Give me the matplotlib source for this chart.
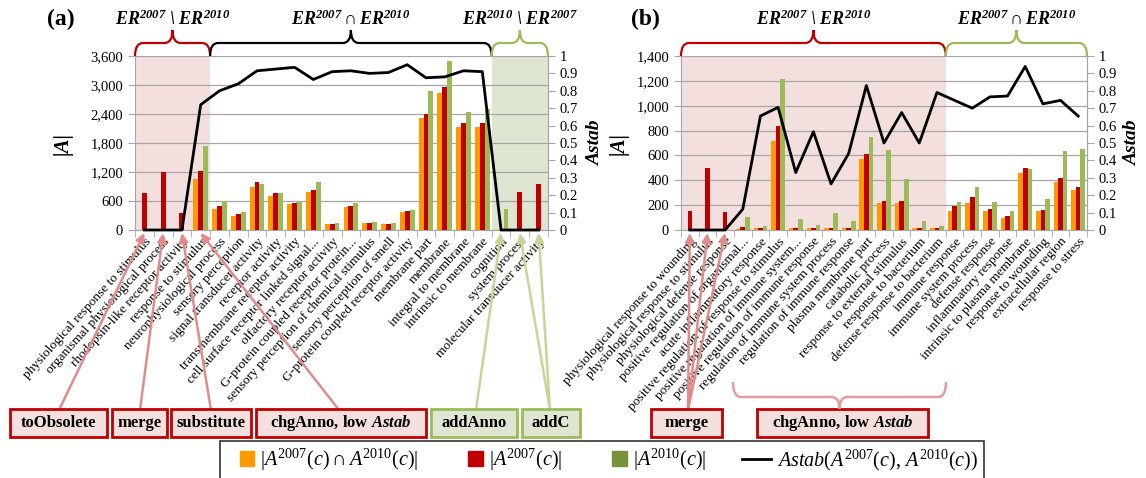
import numpy as np
import matplotlib
matplotlib.use("Agg")
import matplotlib.pyplot as plt
import matplotlib.patches as mpatches
from matplotlib.path import Path
from matplotlib.lines import Line2D
from matplotlib.legend_handler import HandlerPatch
from matplotlib.ticker import FuncFormatter
from matplotlib import transforms

# Panel (a) data
cats_a = [
    "physiological response to stimulus", "organismal physiological process",
    "rhodopsin-like receptor activity", "response to stimulus",
    "neurophysiological process", "sensory perception", "signal transducer activity",
    "receptor activity", "transmembrane receptor activity",
    "cell surface receptor linked signal...", "olfactory receptor activity",
    "G-protein coupled receptor protein...", "sensory perception of chemical stimulus",
    "sensory perception of smell", "G-protein coupled receptor activity",
    "membrane part", "membrane", "integral to membrane", "intrinsic to membrane",
    "cognition", "system process", "molecular transducer activity",
]
inter_a = [0, 0, 0, 1050, 430, 290, 890, 700, 530, 780, 120, 480, 140, 130, 380,
           2310, 2830, 2140, 2140, 0, 0, 0]
a07_a = [770, 1200, 350, 1230, 500, 330, 1000, 770, 560, 830, 130, 500, 150, 130, 400,
         2390, 2950, 2210, 2220, 0, 790, 960]
a10_a = [0, 0, 0, 1740, 610, 370, 960, 760, 570, 1000, 140, 550, 170, 150, 420,
         2870, 3500, 2450, 2500, 430, 0, 0]
astab_a = [0, 0, 0, 0.72, 0.80, 0.84, 0.915, 0.925, 0.935, 0.865, 0.91, 0.915, 0.90,
           0.905, 0.95, 0.875, 0.88, 0.915, 0.91, 0, 0, 0]

# Panel (b) data
cats_b = [
    "physiological response to wounding", "physiological response to stimulus",
    "physiological defense response", "positive regulation of organismal...",
    "acute inflammatory response", "positive regulation of response to stimulus",
    "positive regulation of immune system...", "positive regulation of immune response",
    "regulation of immune system process", "regulation of immune response",
    "plasma membrane part", "catabolic process", "response to external stimulus",
    "response to bacterium", "defense response to bacterium", "immune response",
    "immune system process", "defense response", "inflammatory response",
    "intrinsic to plasma membrane", "response to wounding", "extracellular region",
    "response to stress",
]
inter_b = [0, 0, 0, 5, 15, 720, 15, 15, 20, 20, 570, 220, 215, 20, 15, 155, 215, 155,
           100, 460, 150, 390, 325]
a07_b = [150, 500, 145, 25, 15, 840, 15, 15, 20, 20, 615, 235, 230, 20, 15, 195, 265,
         170, 110, 500, 160, 415, 345]
a10_b = [0, 0, 0, 105, 30, 1215, 90, 40, 140, 75, 750, 640, 410, 70, 30, 225, 350, 225,
         150, 490, 250, 635, 655]
astab_b = [0, 0, 0, 0.12, 0.655, 0.705, 0.33, 0.565, 0.265, 0.44, 0.83, 0.50, 0.675,
           0.50, 0.79, 0.745, 0.70, 0.765, 0.77, 0.94, 0.725, 0.745, 0.655]

W, H = 1146, 478
ORANGE = "#ff9900"
RED = "#c00000"
GREEN = "#9bbb59"
PINK_BG = "#f3dfde"
GREEN_BG = "#dee6d2"
GRID = "#a6a6a6"
RED_ARROW = "#e08c8c"
GREEN_ARROW = "#c4d79b"

plt.rcParams["font.family"] = ["Liberation Serif", "DejaVu Serif"]
plt.rcParams["mathtext.fontset"] = "custom"
plt.rcParams["mathtext.rm"] = "Liberation Serif"
plt.rcParams["mathtext.it"] = "Liberation Serif:italic"
plt.rcParams["mathtext.bf"] = "Liberation Serif:bold"
plt.rcParams["mathtext.bfit"] = "Liberation Serif:italic:bold"


def fx(x):
    return x / W


def fy(y):
    # image pixel row (top-down) -> figure fraction
    return 1 - y / H


def draw_panel(fig, box, cats, inter, a07, a10, astab, ymax, ystep, ylab_x, astab_x):
    left, right, top, bottom = box
    ax = fig.add_axes([fx(left), fy(bottom), (right - left) / W, (bottom - top) / H])
    n = len(cats)
    x = np.arange(n)
    w = 0.26
    ax.bar(x - w, inter, w, color=ORANGE, zorder=3)
    ax.bar(x, a07, w, color=RED, zorder=3)
    ax.bar(x + w, a10, w, color=GREEN, zorder=3)
    ax.set_xlim(-0.5, n - 0.5)
    ax.set_ylim(0, ymax)
    ax.set_yticks(np.arange(0, ymax + 1, ystep))
    ax.yaxis.set_major_formatter(FuncFormatter(lambda v, p: f"{v:,.0f}"))
    ax.grid(axis="y", color=GRID, lw=0.9)
    ax.set_axisbelow(True)

    ax.set_xticks(x)
    ax.set_xticklabels(cats, rotation=48, ha="right", va="top",
                       rotation_mode="anchor", fontsize=9.6)
    ax.set_xticks(np.arange(-0.5, n, 1), minor=True)
    ax.tick_params(axis="x", which="major", length=0, pad=4)
    ax.tick_params(axis="x", which="minor", length=5, color=GRID)
    ax.tick_params(axis="y", length=5, color=GRID, labelsize=10.5)
    ax.spines["top"].set_visible(False)
    for s in ["left", "bottom", "right"]:
        ax.spines[s].set_color(GRID)
    ax.set_ylabel("|A|", fontsize=15, fontweight="bold", fontstyle="italic")
    ax.yaxis.set_label_coords(ylab_x, 0.5)

    ax2 = ax.twinx()
    ax2.plot(x, astab, color="black", lw=2, zorder=4, clip_on=False)
    ax2.set_ylim(0, 1)
    ticks = np.round(np.arange(0, 1.01, 0.1), 1)
    ax2.set_yticks(ticks)
    ax2.set_yticklabels(["0"] + [f"{t:.1f}" for t in ticks[1:-1]] + ["1"])
    ax2.tick_params(axis="y", length=5, color=GRID, labelsize=10.5)
    for s in ["left", "top", "bottom"]:
        ax2.spines[s].set_visible(False)
    ax2.spines["right"].set_color(GRID)
    ax2.set_ylabel("Astab", fontsize=14, fontweight="bold", fontstyle="italic")
    ax2.yaxis.set_label_coords(astab_x, 0.5)
    return ax


def data_to_px(fig, ax, xd):
    # x position of a data value in image pixels
    disp = ax.transData.transform((xd, 0))
    return fig.transFigure.inverted().transform(disp)[0] * W


def draw_brace(fig, x0, x1, y_end, y_mid, y_tip, color, r=8, lw=1.6):
    xm = (x0 + x1) / 2
    pts = [(x0, y_end), (x0, y_mid), (x0 + r, y_mid), (xm - r, y_mid),
           (xm, y_mid), (xm, y_tip), (xm, y_mid), (xm + r, y_mid),
           (x1 - r, y_mid), (x1, y_mid), (x1, y_end)]
    codes = [Path.MOVETO, Path.CURVE3, Path.CURVE3, Path.LINETO,
             Path.CURVE3, Path.CURVE3, Path.CURVE3, Path.CURVE3,
             Path.LINETO, Path.CURVE3, Path.CURVE3]
    verts = [(fx(px), fy(py)) for px, py in pts]
    patch = mpatches.PathPatch(Path(verts, codes), fill=False, edgecolor=color,
                               lw=lw, transform=fig.transFigure)
    fig.add_artist(patch)


def draw_box(fig, x0, x1, y0, y1, label, kind):
    face, edge = (PINK_BG, RED) if kind == "red" else (GREEN_BG, GREEN)
    rect = mpatches.Rectangle((fx(x0), fy(y1)), (x1 - x0) / W, (y1 - y0) / H,
                              facecolor=face, edgecolor=edge, lw=2,
                              transform=fig.transFigure)
    fig.add_artist(rect)
    fig.text(fx((x0 + x1) / 2), fy((y0 + y1) / 2), label, ha="center", va="center",
             fontsize=12, fontweight="bold")


def draw_arrow(fig, ax, start_px, cat, color):
    trans = transforms.blended_transform_factory(ax.transData, fig.transFigure)
    ax.annotate("", xy=(cat, fy(233)), xycoords=trans,
                xytext=(fx(start_px), fy(410)), textcoords="figure fraction",
                arrowprops=dict(arrowstyle="-|>", color=color, lw=1.8,
                                mutation_scale=13, shrinkA=0, shrinkB=0))


def square_patch(legend, orig_handle, xdescent, ydescent, width, height, fontsize):
    s = height * 1.05
    return mpatches.Rectangle((-xdescent + width - s, -ydescent + (height - s) / 2), s, s)


def main():
    fig = plt.figure(figsize=(W / 100, H / 100), dpi=100)

    ax_a = draw_panel(fig, (135, 548, 56, 230), cats_a, inter_a, a07_a, a10_a, astab_a,
                      3600, 600, -0.15, 1.095)
    ax_a.axvspan(-0.5, 3.5, color=PINK_BG, zorder=0, lw=0)
    ax_a.axvspan(18.5, 21.5, color=GREEN_BG, zorder=0, lw=0)

    ax_b = draw_panel(fig, (681, 1087, 56, 230), cats_b, inter_b, a07_b, a10_b, astab_b,
                      1400, 200, -0.13, 1.09)
    ax_b.axvspan(-0.5, 14.5, color=PINK_BG, zorder=0, lw=0)

    fig.text(fx(61), fy(19), "(a)", fontsize=17, fontweight="bold", ha="center", va="center")
    fig.text(fx(645), fy(19), "(b)", fontsize=17, fontweight="bold", ha="center", va="center")

    minus = r"$\mathbfit{ER}^{\mathbfit{2007}}$ \ $\mathbfit{ER}^{\mathbfit{2010}}$"
    minus_r = r"$\mathbfit{ER}^{\mathbfit{2010}}$ \ $\mathbfit{ER}^{\mathbfit{2007}}$"
    both = r"$\mathbfit{ER}^{\mathbfit{2007}} \cap \mathbfit{ER}^{\mathbfit{2010}}$"

    braces = [
        (ax_a, -0.5, 3.5, RED, minus),
        (ax_a, 3.5, 18.5, "black", both),
        (ax_a, 18.5, 21.5, GREEN, minus_r),
        (ax_b, -0.5, 14.5, RED, minus),
        (ax_b, 14.5, 22.5, GREEN, both),
    ]
    for ax, d0, d1, col, lab in braces:
        x0 = data_to_px(fig, ax, d0)
        x1 = data_to_px(fig, ax, d1)
        draw_brace(fig, x0, x1, 56, 43, 30, col)
        fig.text(fx((x0 + x1) / 2), fy(19), lab, ha="center", va="center", fontsize=13,
                 fontweight="bold", fontstyle="italic")

    # annotation boxes below the category labels
    boxes = [
        (10, 107, "toObsolete", "red"),
        (112, 167, "merge", "red"),
        (171, 251, "substitute", "red"),
        (256, 426, r"chgAnno, low $\mathbfit{Astab}$", "red"),
        (431, 517, "addAnno", "green"),
        (522, 580, "addC", "green"),
        (651, 722, "merge", "red"),
        (757, 928, r"chgAnno, low $\mathbfit{Astab}$", "red"),
    ]
    for x0, x1, lab, kind in boxes:
        draw_box(fig, x0, x1, 409, 437, lab, kind)

    arrows = [
        (ax_a, 59, 0, RED_ARROW), (ax_a, 140, 1, RED_ARROW), (ax_a, 211, 2, RED_ARROW),
        (ax_a, 339, 3, RED_ARROW), (ax_a, 476, 19, GREEN_ARROW),
        (ax_a, 550, 20, GREEN_ARROW), (ax_a, 550, 21, GREEN_ARROW),
        (ax_b, 688, 0, RED_ARROW), (ax_b, 688, 1, RED_ARROW), (ax_b, 688, 2, RED_ARROW),
    ]
    for ax, sx, cat, col in arrows:
        draw_arrow(fig, ax, sx, cat, col)

    # brace grouping the low-Astab labels in (b)
    draw_brace(fig, 733, 946, 382, 397, 409, "#e39b9b", lw=1.8)

    handles = [mpatches.Patch(color=ORANGE), mpatches.Patch(color=RED),
               mpatches.Patch(color="#77933c"), Line2D([], [], color="black", lw=2)]
    labels = [r"$|A^{2007}(c)\cap A^{2010}(c)|$", r"$|A^{2007}(c)|$",
              r"$|A^{2010}(c)|$", r"$Astab(A^{2007}(c),\, A^{2010}(c))$"]
    leg = fig.legend(handles, labels, loc="center", bbox_to_anchor=(fx(602), fy(460)),
                     ncol=4, fontsize=14.5, frameon=True, fancybox=False,
                     edgecolor="black", handlelength=1.4, handletextpad=0.3,
                     columnspacing=1.8, borderpad=0.3,
                     handler_map={mpatches.Patch: HandlerPatch(patch_func=square_patch)})
    leg.get_frame().set_linewidth(1.2)

    fig.savefig("out.png", dpi=100)


if __name__ == "__main__":
    main()
